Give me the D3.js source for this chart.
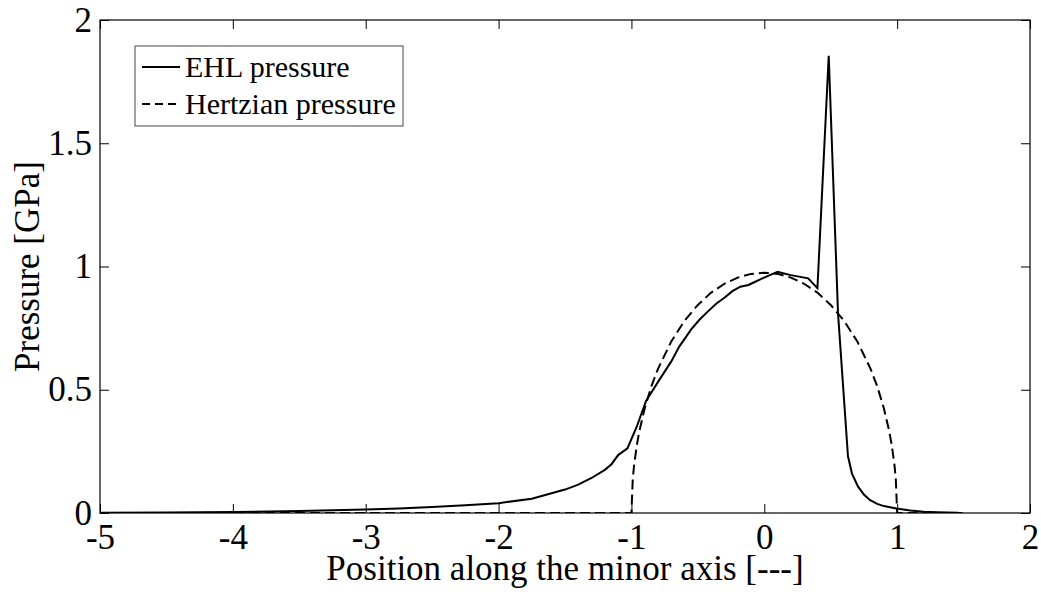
<!DOCTYPE html>
<html>
<head>
<meta charset="utf-8">
<script src="https://cdn.jsdelivr.net/npm/d3@7"></script>
<style>
  html, body { margin: 0; padding: 0; background: #fff; }
  svg { display: block; }
  text { font-family: "Liberation Serif", "Times New Roman", serif; fill: #000; }
</style>
</head>
<body>
<svg id="chart" width="1041" height="594"></svg>
<script>
// ---- data ----
const ehlX = [-5, -4.5, -4, -3.5, -3, -2.75, -2.5, -2.25, -2, -1.75, -1.5, -1.4, -1.3, -1.2, -1.15, -1.1, -1.03,
  -0.96, -0.89, -0.79, -0.7, -0.64, -0.55, -0.49, -0.43, -0.36, -0.3, -0.24, -0.18, -0.12, -0.08, -0.03, 0.02, 0.1,
  0.2, 0.33, 0.40, 0.485, 0.555, 0.63, 0.66, 0.706, 0.75, 0.794, 0.85, 0.9, 0.995, 1.1, 1.2, 1.3, 1.46];
const ehlY = [0.001, 0.002, 0.004, 0.008, 0.014, 0.018, 0.024, 0.031, 0.040, 0.058, 0.095, 0.115, 0.142, 0.175, 0.198, 0.235, 0.262,
  0.35, 0.455, 0.54, 0.615, 0.675, 0.745, 0.783, 0.815, 0.85, 0.873, 0.9, 0.918, 0.925, 0.935, 0.948, 0.96, 0.978,
  0.965, 0.952, 0.912, 1.855, 0.81, 0.23, 0.16, 0.107, 0.075, 0.053, 0.037, 0.028, 0.018, 0.010, 0.005, 0.003, 0.001];

const hertzX = [-5, -1, -0.99, -0.98, -0.96, -0.94, -0.9, -0.85, -0.8, -0.7, -0.6, -0.5, -0.4, -0.3, -0.2, -0.1, 0,
  0.1, 0.2, 0.3, 0.4, 0.5, 0.6, 0.7, 0.8, 0.85, 0.9, 0.94, 0.96, 0.98, 0.99, 1.0, 1.5];
const hertzY = [0, 0, 0.137, 0.194, 0.273, 0.333, 0.425, 0.514, 0.585, 0.696, 0.78, 0.844, 0.894, 0.930, 0.955, 0.970, 0.975,
  0.970, 0.955, 0.930, 0.894, 0.844, 0.78, 0.696, 0.585, 0.514, 0.425, 0.333, 0.273, 0.194, 0.137, 0, 0];

const xTicks = [-5, -4, -3, -2, -1, 0, 1, 2];
const xTickLabels = ["-5", "-4", "-3", "-2", "-1", "0", "1", "2"];
const yTicks = [0, 0.5, 1, 1.5, 2];
const yTickLabels = ["0", "0.5", "1", "1.5", "2"];
const seriesNames = ["EHL pressure", "Hertzian pressure"];
const xLabel = "Position along the minor axis [---]";
const yLabel = "Pressure [GPa]";

// ---- layout ----
const L = 100, R = 1030, T = 20, B = 513;
const svg = d3.select("#chart");
const x = d3.scaleLinear().domain([-5, 2]).range([L, R]);
const y = d3.scaleLinear().domain([0, 2]).range([B, T]);

svg.append("defs").append("clipPath").attr("id", "clip")
  .append("rect").attr("x", L).attr("y", T).attr("width", R - L).attr("height", B - T);

// axes with inward ticks
const tickLen = 9;
const gx = svg.append("g").attr("transform", `translate(0,${B})`)
  .call(d3.axisBottom(x).tickValues(xTicks).tickSizeInner(-tickLen).tickSizeOuter(0).tickPadding(0).tickFormat((d, i) => xTickLabels[i]));
const gxt = svg.append("g").attr("transform", `translate(0,${T})`)
  .call(d3.axisTop(x).tickValues(xTicks).tickSizeInner(-tickLen).tickSizeOuter(0).tickFormat(""));
const gy = svg.append("g").attr("transform", `translate(${L},0)`)
  .call(d3.axisLeft(y).tickValues(yTicks).tickSizeInner(-tickLen).tickSizeOuter(0).tickFormat((d, i) => yTickLabels[i]));
const gyr = svg.append("g").attr("transform", `translate(${R},0)`)
  .call(d3.axisRight(y).tickValues(yTicks).tickSizeInner(-tickLen).tickSizeOuter(0).tickFormat(""));

[gx, gxt, gy, gyr].forEach(g => {
  g.select(".domain").remove();
  g.selectAll(".tick line").attr("stroke", "#000").attr("stroke-width", 1);
});
gx.selectAll(".tick text")
  .attr("y", 36).attr("dy", 0)
  .style("font-size", "35px").style("font-family", "Liberation Serif, Times New Roman, serif").attr("fill", "#000");
gy.selectAll(".tick text")
  .attr("x", -8).attr("dy", "0.32em")
  .style("font-size", "35px").style("font-family", "Liberation Serif, Times New Roman, serif").attr("fill", "#000");

// plot frame
svg.append("rect").attr("x", L).attr("y", T).attr("width", R - L).attr("height", B - T)
  .attr("fill", "none").attr("stroke", "#000").attr("stroke-width", 1.2);

// series
const ehl = ehlX.map((d, i) => [d, ehlY[i]]);
const hertz = hertzX.map((d, i) => [d, hertzY[i]]);
const line = d3.line().x(d => x(d[0])).y(d => y(d[1]));

const plot = svg.append("g").attr("clip-path", "url(#clip)");
plot.append("path").datum(hertz).attr("d", line)
  .attr("fill", "none").attr("stroke", "#000").attr("stroke-width", 2).attr("stroke-dasharray", "10,5");
plot.append("path").datum(ehl).attr("d", line)
  .attr("fill", "none").attr("stroke", "#000").attr("stroke-width", 2).attr("stroke-linejoin", "miter");

// axis labels
svg.append("text").attr("x", (L + R) / 2).attr("y", 580).attr("text-anchor", "middle")
  .style("font-size", "35px").text(xLabel);
svg.append("text").attr("transform", `translate(39,${(T + B) / 2}) rotate(-90)`).attr("text-anchor", "middle")
  .style("font-size", "35px").text(yLabel);

// legend
const lg = svg.append("g");
lg.append("rect").attr("x", 135).attr("y", 46).attr("width", 268).attr("height", 80)
  .attr("fill", "#fff").attr("stroke", "#444").attr("stroke-width", 1);
const rows = [{ y: 67, dash: null }, { y: 104, dash: "8,5" }];
rows.forEach((r, i) => {
  lg.append("line").attr("x1", 142).attr("x2", 180).attr("y1", r.y).attr("y2", r.y)
    .attr("stroke", "#000").attr("stroke-width", 2).attr("stroke-dasharray", r.dash);
  lg.append("text").attr("x", 185).attr("y", r.y).attr("dy", "0.34em")
    .style("font-size", "30px").text(seriesNames[i]);
});
</script>
</body>
</html>
